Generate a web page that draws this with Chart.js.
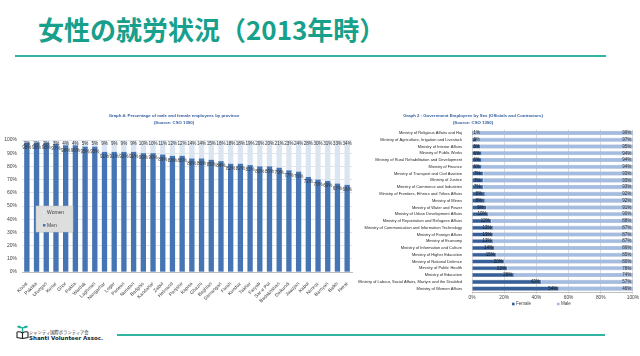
<!DOCTYPE html>
<html><head><meta charset="utf-8">
<script src="https://cdn.jsdelivr.net/npm/chart.js@4.4.1/dist/chart.umd.min.js"></script>
<style>
html,body{margin:0;padding:0;background:#fff;width:640px;height:356px;overflow:hidden;position:relative;font-family:"Noto Sans CJK JP","Noto Sans",sans-serif}
.abs{position:absolute}
#title{left:38px;top:14px;font-size:26px;line-height:30px;font-weight:700;color:#17a08b;white-space:nowrap;letter-spacing:0}
#ul{left:15px;top:55px;width:591px;height:2px;background:#33b3a1}
#bl{left:117px;top:334px;width:488px;height:2px;background:#33b3a1}
.small{transform-origin:0 0;transform:scale(0.5);white-space:nowrap}
</style></head>
<body>
<div id="title" class="abs">女性の就労状況（2013年時）</div>
<div id="ul" class="abs"></div>
<canvas id="c1" class="abs" style="left:0;top:110px" width="360" height="200"></canvas>
<canvas id="c2" class="abs" style="left:340px;top:110px" width="300" height="200"></canvas>
<div id="bl" class="abs"></div>
<svg class="abs" style="left:16px;top:324px" width="13" height="15" viewBox="0 0 13 15">
 <path d="M6.5 8 L6.5 3" stroke="#1fae98" stroke-width="1.4"/>
 <path d="M6.5 4 C4 1,1.5 1.5,1 3 C3 4.5,5 4.5,6.5 4 Z" fill="#1fae98"/>
 <path d="M6.5 4 C9 1,11.5 1.5,12 3 C10 4.5,8 4.5,6.5 4 Z" fill="#1fae98"/>
 <path d="M1 8 L1 13.5 L6.5 14.5 L12 13.5 L12 8 M1 8 C3 7.5,5 8,6.5 9 C8 8,10 7.5,12 8 M6.5 9 L6.5 14.5" stroke="#222" stroke-width="1.1" fill="none"/>
</svg>
<div class="abs small" style="left:29px;top:329px;font-size:8.6px;line-height:10px;color:#222">シャンティ国際ボランティア会</div>
<div class="abs small" style="left:29px;top:335px;font-size:11px;line-height:12px;font-weight:700;color:#222;font-family:'DejaVu Sans',sans-serif">Shanti Volunteer Assoc.</div>
<script>
// ---------- Data: Graph 4 (provinces) ----------
const provinces = ["Khost","Paktika","Uruzgan","Kunar","Ghor","Paktia","Wardak","Laghman","Nangarhar","Logar","Parwan","Nuristan","Badghis","Kandahar","Zabul","Helmand","Panjshir","Kapisa","Ghazni","Baghlan","Samangan","Farah","Kunduz","Takhar","Faryab","Sar-e Pul","Badakhshan","Daikundi","Jawzjan","Kabul","Nimroz","Bamyan","Balkh","Herat"];
const womenPct = [2,2,2,3,4,4,5,5,9,9,9,9,10,10,11,12,12,14,14,15,16,18,18,19,20,20,21,23,24,28,30,31,33,34];
const menPct   = [98,98,98,97,96,96,95,95,91,91,91,91,90,90,89,88,88,86,86,85,84,82,82,81,80,80,79,77,76,72,70,69,67,66];
const graph4Title = ["Graph 4: Percentage of male and female employees by province","(Source: CSO 1390)"];

// ---------- Data: Graph 2 (ministries) ----------
const ministries = ["Ministry of Religious Affairs and Haj","Ministry of Agriculture, Irrigation and Livestock","Ministry of Interior Affairs","Ministry of Public Works","Ministry of Rural Rehabilitation and Development","Ministry of Finance","Ministry of Transport and Civil Aviation","Ministry of Justice","Ministry of Commerce and Industries","Ministry of Frontiers, Ethnics and Tribes Affairs","Ministry of Mines","Ministry of Water and Power","Ministry of Urban Development Affairs","Ministry of Repatriation and Refugees Affairs","Ministry of Communication and Information Technology","Ministry of Foreign Affairs","Ministry of Economy","Ministry of Information and Culture","Ministry of Higher Education","Ministry of National Defence","Ministry of Public Health","Ministry of Education","Ministry of Labour, Social Affairs, Martyrs and the Disabled","Ministry of Women Affairs"];
const femalePct = [1,3,5,6,6,6,7,7,7,8,8,9,10,12,13,13,13,14,15,20,22,26,43,54];
const malePct   = [99,97,95,94,94,94,93,93,93,92,92,91,90,88,87,87,87,86,85,80,78,74,57,46];
const graph2Title = ["Graph 2 : Government Employees by Sex (Officials and Contractors)","(Source: CSO 1390)"];

const FONT = "'Liberation Sans', Arial, sans-serif";
const NARROW = "'Liberation Sans Narrow', 'Liberation Sans', Arial, sans-serif";
const pct = v => v + '%';

// ---------- Chart 1 ----------
const c1Plugin = {
  id: 'c1extra',
  afterDatasetsDraw(chart) {
    const ctx = chart.ctx;
    ctx.save();
    ctx.font = "4.6px " + FONT;
    ctx.fillStyle = '#333';
    ctx.textAlign = 'center'; ctx.textBaseline = 'middle';
    chart.getDatasetMeta(0).data.forEach((b, i) => ctx.fillText(pct(menPct[i]), b.x, b.y + 5));
    chart.getDatasetMeta(1).data.forEach((b, i) => ctx.fillText(pct(womenPct[i]), b.x, b.y + 3.5));
    // legend box inside the plot
    const lx = 36, ly = 96, lw = 37, lh = 26;
    ctx.fillStyle = '#dedede'; ctx.fillRect(lx, ly, lw, lh);
    ctx.strokeStyle = '#c4c4c4'; ctx.lineWidth = 0.5; ctx.strokeRect(lx, ly, lw, lh);
    ctx.textAlign = 'left';
    ctx.font = "5px " + FONT;
    const ds = chart.data.datasets;
    ctx.fillStyle = ds[1].backgroundColor; ctx.fillRect(lx + 7, ly + 5, 2.5, 2.5);
    ctx.fillStyle = '#404040'; ctx.fillText(ds[1].label, lx + 11, ly + 6.5);
    ctx.fillStyle = ds[0].backgroundColor; ctx.fillRect(lx + 7, ly + 18, 2.5, 2.5);
    ctx.fillStyle = '#404040'; ctx.fillText(ds[0].label, lx + 11, ly + 19.5);
    // title
    ctx.fillStyle = '#2f5d9e'; ctx.textAlign = 'center';
    ctx.font = "bold 4.3px " + FONT;
    ctx.fillText(graph4Title[0], 174, 6);
    ctx.fillText(graph4Title[1], 174, 13);
    ctx.restore();
  }
};
new Chart(document.getElementById('c1'), {
  type: 'bar',
  data: {
    labels: provinces,
    datasets: [
      {label: 'Men', data: menPct, backgroundColor: '#4675b3', barPercentage: 0.55, categoryPercentage: 1},
      {label: 'Women', data: womenPct, backgroundColor: '#dbe5f2', barPercentage: 0.55, categoryPercentage: 1}
    ]
  },
  options: {
    responsive: false, animation: false, devicePixelRatio: 1,
    layout: {padding: {top: 30, right: 8, left: 0, bottom: 0}},
    plugins: {legend: {display: false}, tooltip: {enabled: false}, title: {display: false}},
    scales: {
      x: {
        stacked: true,
        grid: {display: false},
        border: {display: true, color: '#bfbfbf'},
        ticks: {autoSkip: false, maxRotation: 45, minRotation: 45, padding: 1, color: '#404040', font: {size: 4.8, family: FONT}},
        afterFit: s => { s.height = 38; }
      },
      y: {
        stacked: true, min: 0, max: 100,
        grid: {color: '#d9d9d9', drawTicks: false, lineWidth: 0.7},
        border: {display: false},
        ticks: {stepSize: 10, padding: 5, color: '#404040', font: {size: 5, family: FONT}, callback: pct},
        afterFit: s => { s.width = 22; }
      }
    }
  },
  plugins: [c1Plugin]
});

// ---------- Chart 2 ----------
const c2Plugin = {
  id: 'c2extra',
  afterDatasetsDraw(chart) {
    const ctx = chart.ctx, a = chart.chartArea;
    ctx.save();
    ctx.font = "4.5px " + FONT;
    ctx.textBaseline = 'middle';
    ctx.fillStyle = '#1a1a1a';
    ctx.textAlign = 'center';
    chart.getDatasetMeta(0).data.forEach((b, i) => {
      const x = Math.max(b.x - 6, b.base + 4.5);
      ctx.fillText(pct(femalePct[i]), x, b.y);
    });
    ctx.textAlign = 'right';
    ctx.fillStyle = '#333';
    chart.getDatasetMeta(1).data.forEach((b, i) => ctx.fillText(pct(malePct[i]), b.x - 1.5, b.y));
    // legend under the axis
    const ds = chart.data.datasets;
    const ly = a.bottom + 12;
    ctx.textAlign = 'left';
    ctx.fillStyle = ds[0].backgroundColor; ctx.fillRect(172, ly - 1.3, 2.6, 2.6);
    ctx.fillStyle = '#404040'; ctx.fillText(ds[0].label, 176, ly);
    ctx.fillStyle = ds[1].backgroundColor; ctx.fillRect(217, ly - 1.3, 2.6, 2.6);
    ctx.fillStyle = '#404040'; ctx.fillText(ds[1].label, 221, ly);
    // title
    ctx.fillStyle = '#2f5d9e'; ctx.textAlign = 'center';
    ctx.font = "bold 4.3px " + FONT;
    ctx.fillText(graph2Title[0], 133, 6);
    ctx.fillText(graph2Title[1], 133, 13);
    ctx.restore();
  }
};
new Chart(document.getElementById('c2'), {
  type: 'bar',
  data: {
    labels: ministries,
    datasets: [
      {label: 'Female', data: femalePct, backgroundColor: '#36609a', borderColor: '#2c4f82', borderWidth: 0.5, barPercentage: 0.6, categoryPercentage: 1},
      {label: 'Male', data: malePct, backgroundColor: '#a3bce0', borderColor: '#7895c2', borderWidth: 0.5, barPercentage: 0.6, categoryPercentage: 1}
    ]
  },
  options: {
    indexAxis: 'y',
    responsive: false, animation: false, devicePixelRatio: 1,
    layout: {padding: {top: 19.6, right: 7, left: 0, bottom: 0}},
    plugins: {legend: {display: false}, tooltip: {enabled: false}, title: {display: false}},
    scales: {
      x: {
        stacked: true, min: 0, max: 100,
        grid: {color: '#d0d0d0', lineWidth: 0.7, tickLength: 2},
        border: {display: true, color: '#bfbfbf'},
        ticks: {stepSize: 20, padding: 1, color: '#404040', font: {size: 4.8, family: FONT}, callback: pct},
        afterFit: s => { s.height = 18; }
      },
      y: {
        stacked: true,
        grid: {display: false},
        border: {display: false},
        ticks: {autoSkip: false, padding: 2, color: '#262626', font: {size: 4.0, family: NARROW}},
        afterFit: s => { s.width = 132; }
      }
    }
  },
  plugins: [c2Plugin]
});
</script>
</body></html>
